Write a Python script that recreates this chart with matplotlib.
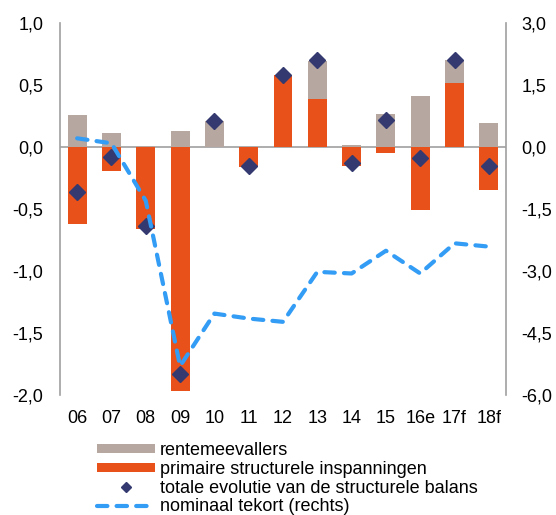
import matplotlib
matplotlib.use("Agg")
import matplotlib.pyplot as plt
import numpy as np
from matplotlib.lines import Line2D
from matplotlib.patches import Patch

plt.rcParams['font.family'] = ['Liberation Sans', 'DejaVu Sans']

categories = ["06", "07", "08", "09", "10", "11", "12", "13", "14", "15", "16e", "17f", "18f"]
rentemeevallers = [0.26, 0.11, 0.01, 0.13, 0.21, 0.0, 0.0, 0.31, 0.02, 0.27, 0.41, 0.18, 0.19]
primaire = [-0.62, -0.19, -0.66, -1.97, 0.0, -0.16, 0.58, 0.385, -0.15, -0.05, -0.51, 0.52, -0.35]
totale = [-0.36, -0.08, -0.64, -1.83, 0.21, -0.15, 0.58, 0.70, -0.13, 0.22, -0.09, 0.70, -0.15]
nominaal = [0.21, 0.09, -1.30, -5.30, -4.03, -4.15, -4.23, -3.02, -3.06, -2.51, -3.06, -2.33, -2.41]

left_ticks = [1.0, 0.5, 0.0, -0.5, -1.0, -1.5, -2.0]
right_ticks = [3.0, 1.5, 0.0, -1.5, -3.0, -4.5, -6.0]

c_grey = "#B6A8A0"
c_orange = "#E85119"
c_navy = "#343A70"
c_blue = "#339CF5"
c_axis = "#A0A0A0"

fs = 13

fig = plt.figure(figsize=(5.56, 5.15), dpi=100)
ax = fig.add_axes([60/556, 1-395/515, 446/556, 372/515])
x = np.arange(len(categories))
prim = np.array(primaire)
rent = np.array(rentemeevallers)
w = 0.55

ax.axhline(0, color=c_axis, lw=1.2, zorder=1)
ax.bar(x, prim, width=w, color=c_orange, zorder=2)
ax.bar(x, rent, width=w, bottom=np.where(prim > 0, prim, 0), color=c_grey, zorder=2)
ax.plot(x, totale, linestyle='none', marker='D', markersize=8.6, color=c_navy, zorder=3)

ax.set_xlim(-0.5, len(categories) - 0.5)
ax.set_ylim(-2.0, 1.0)
ax.set_yticks(left_ticks)
ax.set_yticklabels([f"{v:.1f}".replace('.', ',') for v in left_ticks])
ax.set_xticks(x)
ax.set_xticklabels(categories)
ax.tick_params(axis='both', length=0, labelsize=fs)
ax.tick_params(axis='y', pad=12)
ax.tick_params(axis='x', pad=11)
for s in ['top', 'bottom', 'right']:
    ax.spines[s].set_visible(False)
ax.spines['left'].set_color(c_axis)
ax.spines['left'].set_linewidth(1.2)

ax2 = ax.twinx()
ax2.plot(x, nominaal, color=c_blue, lw=3, linestyle=(0, (2.5, 2.2)), dash_capstyle='round', zorder=4)
ax2.set_ylim(-6.0, 3.0)
ax2.set_yticks(right_ticks)
ax2.set_yticklabels([f"{v:.1f}".replace('.', ',') for v in right_ticks])
ax2.tick_params(axis='y', length=0, labelsize=fs, pad=11)
for s in ['top', 'bottom', 'left']:
    ax2.spines[s].set_visible(False)
ax2.spines['right'].set_color(c_axis)
ax2.spines['right'].set_linewidth(1.2)

handles = [
    Patch(facecolor=c_grey, edgecolor='none'),
    Patch(facecolor=c_orange, edgecolor='none'),
    Line2D([], [], linestyle='none', marker='D', markersize=5, color=c_navy),
    Line2D([], [], color=c_blue, lw=3, linestyle=(0, (2.5, 2.2)), dash_capstyle='round'),
]
labels = ["rentemeevallers", "primaire structurele inspanningen",
          "totale evolutie van de structurele balans", "nominaal tekort (rechts)"]
fig.legend(handles, labels, loc='upper left', bbox_to_anchor=(97/556, 1-442/515),
           frameon=False, fontsize=fs, handlelength=3.2, handleheight=0.45,
           handletextpad=0.28, labelspacing=0.1, borderpad=0, borderaxespad=0)

fig.savefig("out.png", dpi=100)
